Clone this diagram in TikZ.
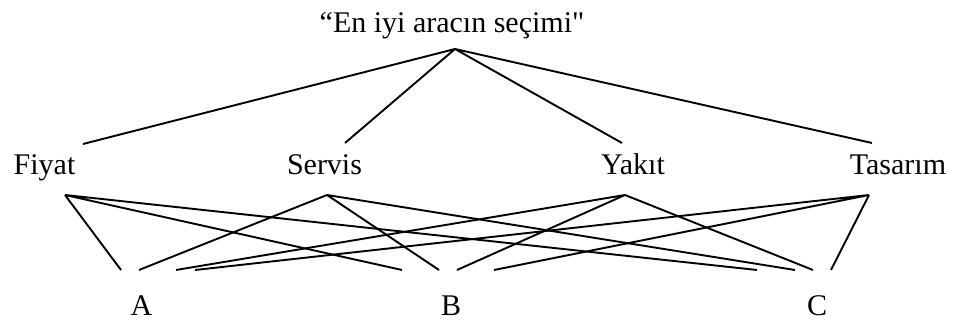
\documentclass[tikz,border=0pt]{standalone}
\usepackage{fontspec}
\setmainfont{Liberation Serif}[Ligatures=TeXOff]
\usetikzlibrary{calc}

\begin{document}
\begin{tikzpicture}[x=0.5pt,y=-0.5pt,font=\fontsize{15}{18}\selectfont,line width=0.95pt]
    \useasboundingbox (0,0) rectangle (953,324);
    \node[anchor=base,inner sep=0pt] (goal) at (452,33) {“En iyi aracın seçimi"};
    \coordinate (g) at (455,49);

    \node[anchor=base,inner sep=0pt] (fiyat) at (44.5,175) {Fiyat};
    \node[anchor=base,inner sep=0pt] (servis) at (324.5,175) {Servis};
    \node[anchor=base,inner sep=0pt] (yakit) at (633,175) {Yakıt};
    \node[anchor=base,inner sep=0pt] (tasarim) at (898,175) {Tasarım};
    \coordinate (fiyat-up) at (83,144);
    \coordinate (servis-up) at (345,143);
    \coordinate (yakit-up) at (622,143);
    \coordinate (tasarim-up) at (872,143);
    \coordinate (fiyat-low) at (65,195);
    \coordinate (servis-low) at (327,195);
    \coordinate (yakit-low) at (625,195);
    \coordinate (tasarim-low) at (869,195);

    \node[anchor=base,inner sep=0pt] (a) at (141.5,316) {A};
    \node[anchor=base,inner sep=0pt] (b) at (451,316) {B};
    \node[anchor=base,inner sep=0pt] (c) at (817,316) {C};
    \coordinate (a1) at (121,270); \coordinate (a2) at (139,270);
    \coordinate (a3) at (176,270); \coordinate (a4) at (195,270);
    \coordinate (b1) at (402,270); \coordinate (b2) at (439,270);
    \coordinate (b3) at (457,270); \coordinate (b4) at (494,270);
    \coordinate (c1) at (757,270); \coordinate (c2) at (795,270);
    \coordinate (c3) at (813,270); \coordinate (c4) at (831,270);

    % goal to criteria
    \draw (g) -- (fiyat-up) (g) -- (servis-up) (g) -- (yakit-up) (g) -- (tasarim-up);

    % criteria to alternatives
    \draw (fiyat-low) -- (a1) (fiyat-low) -- (b1) (fiyat-low) -- (c1);
    \draw (servis-low) -- (a2) (servis-low) -- (b2) (servis-low) -- (c2);
    \draw (yakit-low) -- (a3) (yakit-low) -- (b3) (yakit-low) -- (c3);
    \draw (tasarim-low) -- (a4) (tasarim-low) -- (b4) (tasarim-low) -- (c4);
\end{tikzpicture}
\end{document}
